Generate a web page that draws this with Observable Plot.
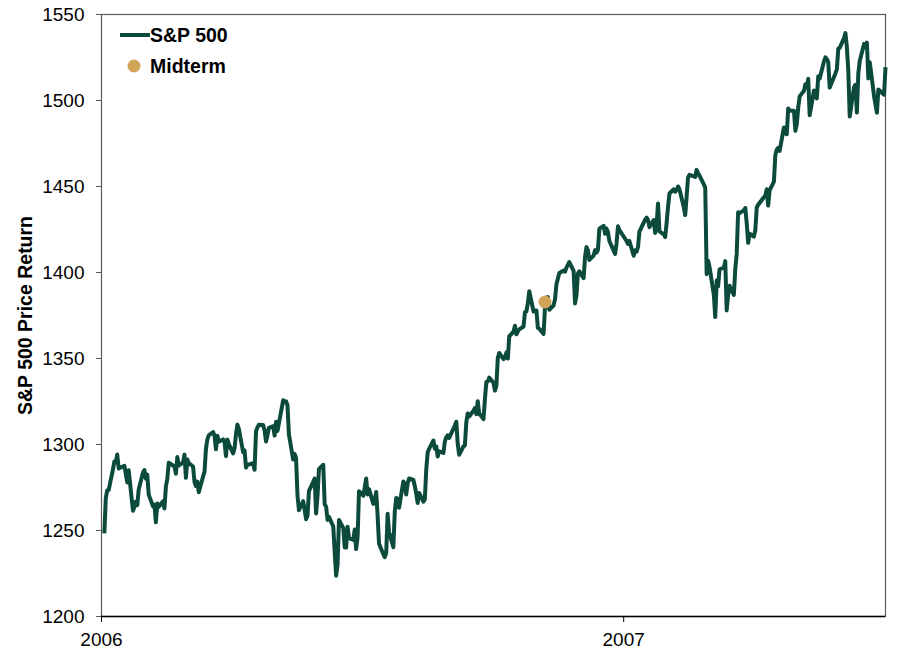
<!DOCTYPE html>
<html>
<head>
<meta charset="utf-8">
<script src="https://cdn.jsdelivr.net/npm/d3@7"></script>
<script src="https://cdn.jsdelivr.net/npm/@observablehq/plot@0.6"></script>
<style>
  html, body { margin: 0; padding: 0; background: #fff; }
</style>
</head>
<body>
<div id="chart"></div>
<script>
// S&P 500 price level (2006)
const sp500_2006 = [
["2006-01-03",1248.29],["2006-01-04",1268.80],["2006-01-05",1273.46],["2006-01-06",1273.48],["2006-01-09",1285.45],
["2006-01-10",1290.15],["2006-01-11",1289.69],["2006-01-12",1294.18],["2006-01-13",1286.06],["2006-01-17",1287.61],
["2006-01-18",1282.93],["2006-01-19",1277.93],["2006-01-20",1285.04],["2006-01-23",1261.49],["2006-01-24",1263.82],
["2006-01-25",1266.86],["2006-01-26",1264.68],["2006-01-27",1273.83],["2006-01-30",1283.72],["2006-01-31",1285.19],
["2006-02-01",1280.08],["2006-02-02",1282.46],["2006-02-03",1270.84],["2006-02-06",1264.03],["2006-02-07",1265.02],
["2006-02-08",1254.78],["2006-02-09",1265.65],["2006-02-10",1263.78],["2006-02-13",1266.99],["2006-02-14",1262.86],
["2006-02-15",1275.53],["2006-02-16",1280.00],["2006-02-17",1289.38],["2006-02-21",1287.24],["2006-02-22",1283.03],
["2006-02-23",1292.67],["2006-02-24",1287.79],["2006-02-27",1289.43],["2006-02-28",1294.12],["2006-03-01",1280.66],
["2006-03-02",1291.24],["2006-03-03",1289.14],["2006-03-06",1287.23],["2006-03-07",1278.26],["2006-03-08",1275.88],
["2006-03-09",1278.47],["2006-03-10",1272.23],["2006-03-13",1281.42],["2006-03-14",1284.13],["2006-03-15",1297.48],
["2006-03-16",1303.02],["2006-03-17",1305.33],["2006-03-20",1307.25],["2006-03-21",1305.08],["2006-03-22",1297.23],
["2006-03-23",1305.04],["2006-03-24",1301.67],["2006-03-27",1302.95],["2006-03-28",1301.61],["2006-03-29",1293.23],
["2006-03-30",1302.89],["2006-03-31",1300.25],["2006-04-03",1294.83],["2006-04-04",1297.81],["2006-04-05",1305.93],
["2006-04-06",1311.56],["2006-04-07",1309.04],["2006-04-10",1295.50],["2006-04-11",1296.62],["2006-04-12",1286.57],
["2006-04-13",1288.12],["2006-04-17",1289.12],["2006-04-18",1285.33],["2006-04-19",1307.65],["2006-04-20",1309.93],
["2006-04-21",1311.46],["2006-04-24",1311.28],["2006-04-25",1308.11],["2006-04-26",1301.74],["2006-04-27",1305.41],
["2006-04-28",1309.72],["2006-05-01",1310.61],["2006-05-02",1305.19],["2006-05-03",1313.21],["2006-05-04",1307.85],
["2006-05-05",1312.25],["2006-05-08",1325.76],["2006-05-09",1324.66],["2006-05-10",1325.14],["2006-05-11",1322.85],
["2006-05-12",1305.92],["2006-05-15",1291.24],["2006-05-16",1294.50],["2006-05-17",1292.08],["2006-05-18",1270.32],
["2006-05-19",1261.81],["2006-05-22",1267.03],["2006-05-23",1262.07],["2006-05-24",1256.58],["2006-05-25",1258.57],
["2006-05-26",1272.88],["2006-05-30",1280.16],["2006-05-31",1259.87],["2006-06-01",1270.09],["2006-06-02",1285.71],
["2006-06-05",1288.22],["2006-06-06",1265.29],["2006-06-07",1263.85],["2006-06-08",1256.15],["2006-06-09",1257.93],
["2006-06-12",1252.30],["2006-06-13",1237.44],["2006-06-14",1223.69],["2006-06-15",1230.04],["2006-06-16",1256.16],
["2006-06-19",1251.54],["2006-06-20",1240.13],["2006-06-21",1240.12],["2006-06-22",1252.20],["2006-06-23",1245.60],
["2006-06-26",1244.50],["2006-06-27",1250.56],["2006-06-28",1239.20],["2006-06-29",1246.00],["2006-06-30",1272.87],
["2006-07-03",1270.20],["2006-07-05",1280.19],["2006-07-06",1270.91],["2006-07-07",1274.08],["2006-07-10",1265.48],
["2006-07-11",1267.34],["2006-07-12",1272.43],["2006-07-13",1258.60],["2006-07-14",1242.28],["2006-07-17",1236.20],
["2006-07-18",1234.49],["2006-07-19",1236.86],["2006-07-20",1259.81],["2006-07-21",1249.13],["2006-07-24",1240.29],
["2006-07-25",1260.91],["2006-07-26",1268.88],["2006-07-27",1268.40],["2006-07-28",1263.20],["2006-07-31",1278.55],
["2006-08-01",1276.66],["2006-08-02",1270.92],["2006-08-03",1277.41],["2006-08-04",1280.27],["2006-08-07",1279.36],
["2006-08-08",1275.77],["2006-08-09",1271.48],["2006-08-10",1265.95],["2006-08-11",1271.81],["2006-08-14",1266.74],
["2006-08-15",1268.21],["2006-08-16",1285.58],["2006-08-17",1295.43],["2006-08-18",1297.48],["2006-08-21",1302.30],
["2006-08-22",1297.52],["2006-08-23",1298.82],["2006-08-24",1292.99],["2006-08-25",1296.06],["2006-08-28",1295.09],
["2006-08-29",1301.78],["2006-08-30",1304.28],["2006-08-31",1305.37],["2006-09-01",1303.82],["2006-09-05",1311.01],
["2006-09-06",1313.25],["2006-09-07",1300.26],["2006-09-08",1294.02],["2006-09-11",1298.92],["2006-09-12",1299.54],
["2006-09-13",1313.00],["2006-09-14",1318.07],["2006-09-15",1316.28],["2006-09-18",1319.66],["2006-09-19",1321.18],
["2006-09-20",1317.64],["2006-09-21",1325.18],["2006-09-22",1318.03],["2006-09-25",1314.78],["2006-09-26",1326.37],
["2006-09-27",1336.35],["2006-09-28",1336.59],["2006-09-29",1338.88],["2006-10-02",1335.85],["2006-10-03",1331.32],
["2006-10-04",1334.11],["2006-10-05",1350.20],["2006-10-06",1353.22],["2006-10-09",1349.59],["2006-10-10",1350.66],
["2006-10-11",1353.42],["2006-10-12",1349.95],["2006-10-13",1362.83],["2006-10-16",1365.62],["2006-10-17",1369.06],
["2006-10-18",1364.05],["2006-10-19",1365.80],["2006-10-20",1366.96],["2006-10-23",1368.60],["2006-10-24",1377.02],
["2006-10-25",1377.38],["2006-10-26",1382.22],["2006-10-27",1389.08],["2006-10-30",1377.34],["2006-10-31",1377.93],
["2006-11-01",1377.94],["2006-11-02",1367.81],["2006-11-03",1367.34],["2006-11-06",1364.30],["2006-11-07",1379.78],
["2006-11-08",1382.84],["2006-11-09",1385.72],["2006-11-10",1378.33],["2006-11-13",1380.90],["2006-11-14",1384.42],
["2006-11-15",1393.22],["2006-11-16",1396.57],["2006-11-17",1399.76],["2006-11-20",1401.20],["2006-11-21",1400.50],
["2006-11-22",1402.81],["2006-11-24",1406.09],["2006-11-27",1400.95],["2006-11-28",1381.96],["2006-11-29",1386.72],
["2006-11-30",1399.48],["2006-12-01",1400.63],["2006-12-04",1396.71],["2006-12-05",1409.12],["2006-12-06",1414.76],
["2006-12-07",1412.90],["2006-12-08",1407.29],["2006-12-11",1409.84],["2006-12-12",1413.04],["2006-12-13",1411.56],
["2006-12-14",1413.21],["2006-12-15",1425.49],["2006-12-18",1427.09],["2006-12-19",1422.48],["2006-12-20",1425.55],
["2006-12-21",1423.53],["2006-12-22",1418.30],["2006-12-26",1410.76],["2006-12-27",1416.90],["2006-12-28",1426.84],
["2006-12-29",1424.73]
];

// S&P 500 price level (2007)
const sp500_2007 = [
["2007-01-03",1418.30],["2007-01-04",1416.60],["2007-01-05",1418.34],["2007-01-08",1409.71],["2007-01-09",1412.84],
["2007-01-10",1412.11],["2007-01-11",1414.85],["2007-01-12",1423.82],["2007-01-16",1430.73],["2007-01-17",1431.90],
["2007-01-18",1430.62],["2007-01-19",1426.37],["2007-01-22",1430.50],["2007-01-23",1422.95],["2007-01-24",1427.99],
["2007-01-25",1440.13],["2007-01-26",1423.90],["2007-01-29",1422.18],["2007-01-30",1420.62],["2007-01-31",1428.82],
["2007-02-01",1438.24],["2007-02-02",1445.94],["2007-02-05",1448.39],["2007-02-06",1446.99],["2007-02-07",1448.00],
["2007-02-08",1450.02],["2007-02-09",1448.31],["2007-02-12",1438.06],["2007-02-13",1433.37],["2007-02-14",1444.26],
["2007-02-15",1455.30],["2007-02-16",1456.81],["2007-02-20",1455.54],["2007-02-21",1459.68],["2007-02-22",1457.63],
["2007-02-23",1456.38],["2007-02-26",1451.19],["2007-02-27",1449.37],["2007-02-28",1399.04],["2007-03-01",1406.82],
["2007-03-02",1403.17],["2007-03-05",1387.17],["2007-03-06",1374.12],["2007-03-07",1395.41],["2007-03-08",1391.97],
["2007-03-09",1401.89],["2007-03-12",1402.84],["2007-03-13",1406.60],["2007-03-14",1377.95],["2007-03-15",1387.17],
["2007-03-16",1392.28],["2007-03-19",1386.95],["2007-03-20",1402.06],["2007-03-21",1410.94],["2007-03-22",1435.04],
["2007-03-23",1434.54],["2007-03-26",1436.11],["2007-03-27",1437.50],["2007-03-28",1428.61],["2007-03-29",1417.23],
["2007-03-30",1422.53],["2007-04-02",1420.86],["2007-04-03",1424.55],["2007-04-04",1437.77],["2007-04-05",1439.37],
["2007-04-09",1443.76],["2007-04-10",1444.61],["2007-04-11",1448.39],["2007-04-12",1438.87],["2007-04-13",1447.80],
["2007-04-16",1452.85],["2007-04-17",1468.33],["2007-04-18",1471.48],["2007-04-19",1472.50],["2007-04-20",1470.73],
["2007-04-23",1484.35],["2007-04-24",1480.93],["2007-04-25",1480.41],["2007-04-26",1495.42],["2007-04-27",1494.25],
["2007-04-30",1494.07],["2007-05-01",1482.37],["2007-05-02",1486.30],["2007-05-03",1495.92],["2007-05-04",1502.39],
["2007-05-07",1505.62],["2007-05-08",1509.48],["2007-05-09",1507.72],["2007-05-10",1512.58],["2007-05-11",1491.47],
["2007-05-14",1505.85],["2007-05-15",1503.15],["2007-05-16",1501.19],["2007-05-17",1514.14],["2007-05-18",1512.75],
["2007-05-21",1522.75],["2007-05-22",1525.10],["2007-05-23",1524.12],["2007-05-24",1522.28],["2007-05-25",1507.51],
["2007-05-29",1515.73],["2007-05-30",1518.11],["2007-05-31",1530.23],["2007-06-01",1530.62],["2007-06-04",1536.34],
["2007-06-05",1539.18],["2007-06-06",1530.95],["2007-06-07",1517.38],["2007-06-08",1490.72],["2007-06-11",1507.67],
["2007-06-12",1509.12],["2007-06-13",1493.00],["2007-06-14",1515.67],["2007-06-15",1522.97],["2007-06-18",1532.91],
["2007-06-19",1531.05],["2007-06-20",1533.70],["2007-06-21",1512.84],["2007-06-22",1522.19],["2007-06-25",1502.56],
["2007-06-26",1497.74],["2007-06-27",1492.89],["2007-06-28",1506.34],["2007-06-29",1505.71],["2007-07-02",1503.35],
["2007-07-03",1519.43]
];

// Midterm election marker
const midterm = [["2006-11-07", 1382.84]];

// Axis ticks
const yTicks = [1200, 1250, 1300, 1350, 1400, 1450, 1500, 1550];
const xTickLabels = ["2006-01-01", "2007-01-01"];
const xDomain = ["2006-01-01", "2007-07-03"];

const lineColor = "#0c4b3c";
const dotColor = "#d2a458";
const font = "'Liberation Sans', Arial, Helvetica, sans-serif";

const series = [...sp500_2006, ...sp500_2007].map(([d, v]) => ({date: new Date(d), value: v}));
const mid = midterm.map(([d, v]) => ({date: new Date(d), value: v}));

const chart = Plot.plot({
  width: 900,
  height: 658,
  marginLeft: 101,
  marginRight: 15,
  marginTop: 14,
  marginBottom: 42,
  style: {fontFamily: font, fontSize: "19px", color: "#000", background: "#fff", overflow: "visible"},
  x: {type: "utc", domain: xDomain.map(d => new Date(d))},
  y: {domain: [1200, 1550]},
  marks: [
    Plot.frame({stroke: "#5a5a5a", strokeWidth: 1.2}),
    Plot.axisY({ticks: yTicks, tickFormat: d3.format("d"), tickSize: 5, tickPadding: 12, label: null, stroke: "#5a5a5a", fontSize: 19}),
    Plot.axisX({ticks: xTickLabels.map(d => new Date(d)), tickFormat: d3.utcFormat("%Y"), tickSize: 6, tickPadding: 10, label: null, stroke: "#000", fontSize: 19}),
    Plot.ruleY([1200], {stroke: "#000", strokeWidth: 1.5}),
    Plot.line(series, {x: "date", y: "value", stroke: lineColor, strokeWidth: 4, strokeLinejoin: "round", strokeLinecap: "butt"}),
    Plot.dot(mid, {x: "date", y: "value", r: 6.5, fill: dotColor, stroke: "none"}),
    Plot.text(["S&P 500 Price Return"], {frameAnchor: "left", textAnchor: "middle", dx: -76, rotate: -90, fontWeight: "bold", fontSize: 19.5, fill: "#000"})
  ]
});

// Legend inside the plot area (top-left)
const svg = d3.select(chart);
const lg = svg.append("g").attr("font-family", font).attr("font-size", 19.5).attr("font-weight", "bold").attr("text-anchor", "start");
lg.append("line").attr("x1", 120).attr("x2", 150).attr("y1", 35).attr("y2", 35)
  .attr("stroke", lineColor).attr("stroke-width", 4);
lg.append("text").attr("x", 150).attr("y", 35).attr("dy", "0.36em").attr("fill", "#000").text("S&P 500");
lg.append("circle").attr("cx", 134).attr("cy", 66).attr("r", 6.5).attr("fill", dotColor);
lg.append("text").attr("x", 150).attr("y", 66).attr("dy", "0.36em").attr("fill", "#000").text("Midterm");

document.getElementById("chart").appendChild(chart);
</script>
</body>
</html>
